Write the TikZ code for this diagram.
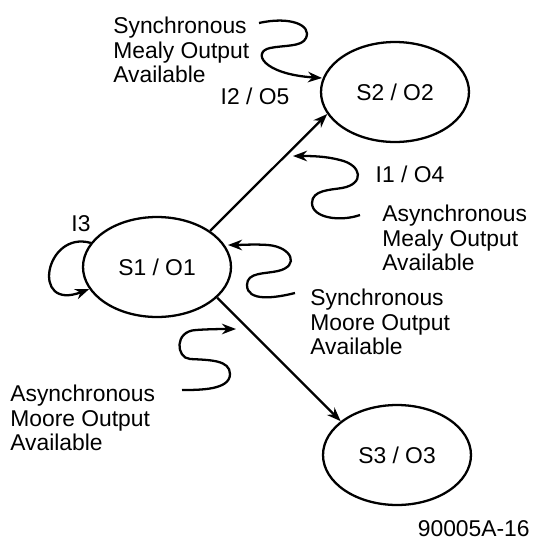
\documentclass[tikz,border=0pt]{standalone}
\usepackage{fontspec}
\setmainfont{Liberation Sans}
\usetikzlibrary{shapes.geometric,arrows.meta}

\tikzset{
  state/.style={ellipse,draw,line width=1.3pt,minimum width=2.96cm,minimum height=2cm,inner sep=0pt},
  note/.style={align=left,inner sep=0pt,anchor=west},
  lbl/.style={inner sep=0pt},
  flow/.style={line width=1.3pt,-{Stealth[length=8pt,width=6pt]}}
}

\begin{document}
\begin{tikzpicture}[x=0.02cm,y=-0.02cm,font=\fontsize{13}{13.9}\selectfont]
  \useasboundingbox (0,0) rectangle (536,542);

  \node[state] (s1) at (157,267) {S1 / O1};
  \node[state] (s2) at (395,92) {S2 / O2};
  \node[state] (s3) at (397,455) {S3 / O3};

  \draw[flow] (s1.north east) -- (s2.198);
  \draw[flow] (s1.-27) -- (s3.149);
  \draw[flow] (s1.160) .. controls (45,230) and (30,312) .. (s1.198);

  \node[lbl] (i3) at (81,224) {I3};
  \node[lbl] (i2) at (255,96) {I2 / O5};
  \node[lbl] (i1) at (410,174) {I1 / O4};

  \node[note] (syme) at (113,50) {Synchronous\\Mealy Output\\Available};
  \node[note] (asme) at (382,238) {Asynchronous\\Mealy Output\\Available};
  \node[note] (symo) at (310,322) {Synchronous\\Moore Output\\Available};
  \node[note] (asmo) at (10,418) {Asynchronous\\Moore Output\\Available};
  \node[lbl,anchor=east] (fig) at (530,529) {90005A-16};

  \draw[flow] (259,23) .. controls (290,16) and (312,25) .. (306,38)
    .. controls (302,47) and (285,45) .. (270,48)
    .. controls (252,52) and (262,74) .. (322,78);
  \draw[flow] (360,215) .. controls (340,222) and (312,218) .. (312,203)
    .. controls (312,190) and (330,190) .. (342,188)
    .. controls (365,184) and (362,165) .. (340,160)
    .. controls (325,156) and (310,156) .. (293,156);
  \draw[flow] (295,293) .. controls (275,298) and (247,302) .. (247,285)
    .. controls (247,272) and (265,274) .. (278,271)
    .. controls (300,266) and (292,247) .. (268,245)
    .. controls (255,244) and (240,245) .. (228,245);
  \draw[flow] (182,390) .. controls (200,390) and (230,390) .. (230,374)
    .. controls (230,360) and (210,360) .. (190,359)
    .. controls (176,358) and (174,331) .. (196,330)
    .. controls (210,329) and (225,329) .. (236,329);
\end{tikzpicture}
\end{document}
